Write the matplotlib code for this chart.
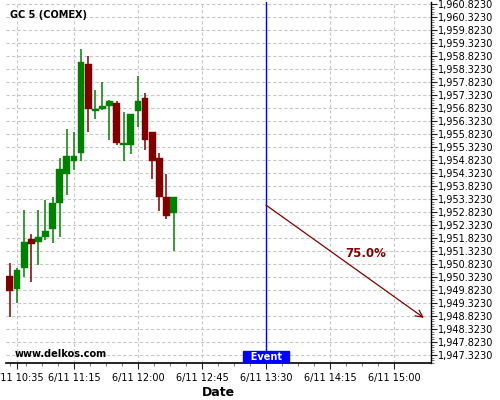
import numpy as np
import pandas as pd
import matplotlib
matplotlib.use("Agg")
import matplotlib.pyplot as plt
import matplotlib.dates as mdates
from matplotlib.ticker import FixedLocator, FuncFormatter

# 5 minute candles, GC 5 (COMEX) on 6/11
times = ["10:30", "10:35", "10:40", "10:45", "10:50", "10:55", "11:00", "11:05",
         "11:10", "11:15", "11:20", "11:25", "11:30", "11:35", "11:40", "11:45",
         "11:50", "11:55", "12:00", "12:05", "12:10", "12:15", "12:20", "12:25"]
opens = [1950.36, 1949.87, 1950.68, 1951.79, 1951.68, 1951.87, 1952.18, 1953.18,
         1954.30, 1954.80, 1955.10, 1958.52, 1956.72, 1956.80, 1956.91, 1957.02,
         1955.41, 1955.41, 1956.72, 1957.21, 1955.90, 1954.90, 1953.41, 1952.79]
highs = [1950.85, 1950.66, 1952.89, 1951.97, 1952.89, 1953.29, 1953.39, 1954.90,
         1956.00, 1955.90, 1959.08, 1958.82, 1957.50, 1957.81, 1957.12, 1957.08,
         1956.68, 1956.59, 1958.07, 1957.39, 1955.90, 1955.08, 1954.29, 1953.41]
lows = [1948.77, 1949.34, 1950.34, 1950.14, 1950.77, 1951.75, 1951.64, 1951.85,
        1953.47, 1954.45, 1954.77, 1955.90, 1956.39, 1956.76, 1955.59, 1955.39,
        1954.77, 1955.07, 1956.08, 1955.20, 1954.08, 1952.87, 1952.57, 1951.34]
closes = [1949.80, 1950.59, 1951.67, 1951.60, 1951.86, 1952.09, 1953.18, 1954.48,
          1954.98, 1954.98, 1958.59, 1956.80, 1956.79, 1956.90, 1957.09, 1955.49,
          1955.48, 1956.59, 1957.09, 1955.60, 1954.80, 1953.41, 1952.68, 1953.41]

# event / forecast
event_time = "13:30"
arrow_start = ("13:30", 1953.09)
arrow_end = ("15:21", 1948.75)
prob_label = "75.0%"
prob_pos = ("14:40", 1951.21)

# axis ticks
ytick_values = [1947.323 + 0.5 * i for i in range(28)]
xtick_times = ["10:35", "11:15", "12:00", "12:45", "13:30", "14:15", "15:00"]
xlim_times = ("10:27:15", "15:26")
ylim = (1947.015, 1960.90)

DAY = "2015-06-11 "


def t(s):
    return mdates.date2num(pd.Timestamp(DAY + s))


df = pd.DataFrame({"open": opens, "high": highs, "low": lows, "close": closes},
                  index=[t(s) for s in times])

fig = plt.figure(figsize=(5, 4), dpi=100)
ax = fig.add_axes([0.012, 0.0925, 0.85, 0.9025])

up = df["close"] >= df["open"]
green = "#008000"
red = "#800000"
colors = np.where(up, green, red)
w = 4.8 / 1440

ax.vlines(df.index, df["low"], df["high"], colors=colors, lw=1.1, zorder=3)
ax.bar(df.index, df["close"] - df["open"], bottom=df["open"], width=w,
       color=colors, edgecolor=colors, lw=0.3, zorder=4)

ax.set_xlim(t(xlim_times[0]), t(xlim_times[1]))
ax.set_ylim(*ylim)

# y axis on the right
ax.yaxis.tick_right()
ax.yaxis.set_major_locator(FixedLocator(ytick_values))
ax.yaxis.set_major_formatter(FuncFormatter(lambda v, p: "{:,.4f}".format(v)))
ax.yaxis.set_minor_locator(FixedLocator([ytick_values[0] + 0.1 * i for i in range(-3, 140)]))

# x axis
ax.xaxis.set_major_locator(FixedLocator([t(s) for s in xtick_times]))
ax.xaxis.set_major_formatter(FuncFormatter(
    lambda v, p: "6/11 " + mdates.num2date(v).strftime("%H:%M")))
step = 11.25 / 1440
base = t("11:15")
ax.xaxis.set_minor_locator(FixedLocator([base + step * i for i in range(-6, 20)]))

ax.tick_params(axis="both", which="major", labelsize=7, length=4, width=0.8, color="#222222")
ax.tick_params(axis="both", which="minor", length=2, width=0.6, color="#666666")
ax.tick_params(axis="y", which="both", left=False, right=True, pad=1)

for s in ["top", "left"]:
    ax.spines[s].set_visible(False)
ax.spines["bottom"].set_linewidth(1.2)
ax.spines["right"].set_linewidth(1.0)

ax.grid(True, which="major", linestyle=(0, (3, 2)), color="#c8c8c8", lw=0.8)
ax.set_axisbelow(True)

ax.set_xlabel("Date", fontsize=9, fontweight="bold", labelpad=2)

# event line and label
ax.axvline(t(event_time), color="blue", lw=1.0, zorder=2)
ax.text(t(event_time), 0.018, "  Event  ", transform=ax.get_xaxis_transform(),
        ha="center", va="center", color="white", fontsize=7, fontweight="bold",
        bbox=dict(boxstyle="square,pad=0.1", facecolor="blue", edgecolor="blue"),
        zorder=6)

# forecast arrow
ax.annotate("", xy=(t(arrow_end[0]), arrow_end[1]),
            xytext=(t(arrow_start[0]), arrow_start[1]),
            arrowprops=dict(arrowstyle="->,head_length=0.5,head_width=0.25",
                            color=red, lw=0.9, shrinkA=0, shrinkB=0),
            zorder=5)
ax.text(t(prob_pos[0]), prob_pos[1], prob_label, color=red, fontsize=8.5,
        fontweight="bold", ha="center", va="center", zorder=6)

fig.text(0.02, 0.962, "GC 5 (COMEX)", fontsize=7, fontweight="bold", va="center")
fig.text(0.03, 0.115, "www.delkos.com", fontsize=7, fontweight="bold", va="center")

fig.savefig("out.png", dpi=100)
